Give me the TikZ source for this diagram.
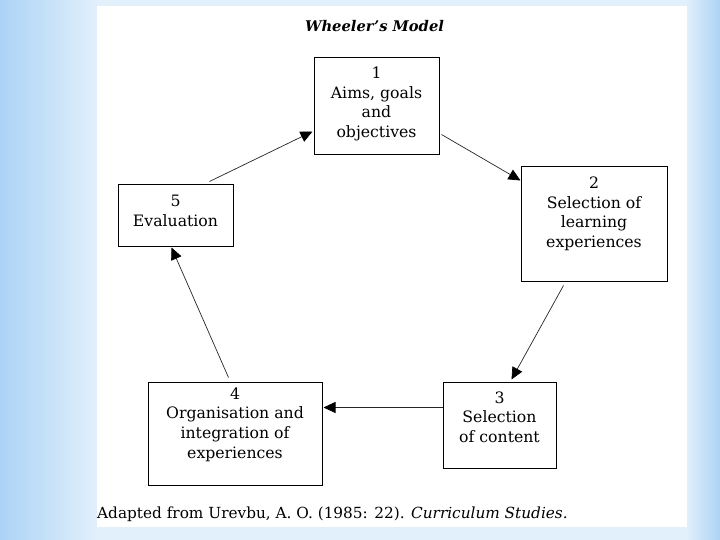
\documentclass[tikz,border=0pt]{standalone}
\usepackage{fontspec}
\setmainfont{DejaVu Serif}
\usetikzlibrary{arrows.meta,calc}
\definecolor{bgdark}{RGB}{172,211,245}
\definecolor{bglight}{RGB}{226,240,252}
\tikzset{
  boxnode/.style={draw=black,line width=1pt,fill=white,inner sep=0pt},
  boxtxt/.style={align=center,font=\fontsize{15.7}{19.6}\selectfont,inner sep=0pt},
  flow/.style={line width=0.7pt,draw=black!85,-{Triangle[length=12pt,width=11pt,color=black]}}
}
\begin{document}
\begin{tikzpicture}[x=1pt,y=-1pt]
\useasboundingbox (0,0) rectangle (720,540);
% background
\shade[left color=bgdark,right color=bglight] (0,0) rectangle (98,540);
\shade[left color=bglight,right color=bgdark] (686,0) rectangle (720,540);
\fill[bglight] (97,0) rectangle (687,6);
\fill[bglight] (97,527) rectangle (687,540);
\fill[white] (97,6) rectangle (687,527);
% title
\node[font=\fontsize{14.7}{16}\selectfont\bfseries\itshape,inner sep=0pt] (title) at (374.5,26) {Wheeler’s Model};
% boxes
\node[boxnode,minimum width=125,minimum height=97] (b1) at (376.5,106.5) {};
\node[boxnode,minimum width=146,minimum height=114] (b2) at (594,224) {};
\node[boxnode,minimum width=113,minimum height=86] (b3) at (499.5,425) {};
\node[boxnode,minimum width=174,minimum height=103] (b4) at (235,433.5) {};
\node[boxnode,minimum width=115,minimum height=61] (b5) at (175.5,215.5) {};
% texts
\node[boxtxt] (t1) at ($(b1.center)+(0,-2.5)$) {1\\Aims, goals\\and\\objectives};
\node[boxtxt] (t2) at ($(b2.center)+(0,-10)$) {2\\Selection of\\learning\\experiences};
\node[boxtxt] (t3) at ($(b3.center)+(0,-8)$) {3\\Selection\\of content};
\node[boxtxt] (t4) at ($(b4.center)+(0,-9)$) {4\\Organisation and\\integration of\\experiences};
\node[boxtxt] (t5) at ($(b5.center)+(0,-4.5)$) {5\\Evaluation};
% connectors
\draw[flow] ([shift={(-24,-3)}]b5.north east) -- ([shift={(-1,-24)}]b1.south west);
\draw[flow] ([shift={(2,-21)}]b1.south east) -- ([shift={(0,14)}]b2.north west);
\draw[flow] ([shift={(43,4)}]b2.south west) -- ([shift={(69,-2)}]b3.north west);
\draw[flow] ([shift={(0,26)}]b3.north west) -- ([shift={(1,26)}]b4.north east);
\draw[flow] ([shift={(81,-4)}]b4.north west) -- ([shift={(54,1)}]b5.south west);
% caption
\node[anchor=west,font=\fontsize{15.3}{18}\selectfont,inner sep=0pt] (cap) at (97,514) {Adapted from Urevbu, A. O. (1985: 22). \textit{Curriculum Studies.}};
\end{tikzpicture}
\end{document}
